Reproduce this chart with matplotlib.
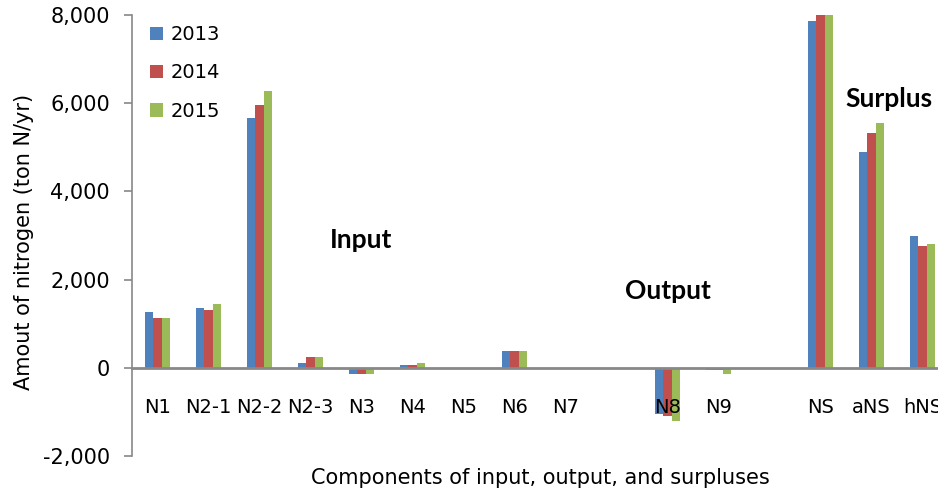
import numpy as np
import matplotlib.pyplot as plt
from matplotlib.ticker import FuncFormatter

# Nitrogen budget components (ton N/yr); blank slots separate the groups
categories = ["N1", "N2-1", "N2-2", "N2-3", "N3", "N4", "N5", "N6", "N7", "",
              "N8", "N9", "", "NS", "aNS", "hNS"]
y2013 = [1270, 1350, 5670, 100, -150, 60, 0, 380, 0, 0, -1040, -50, 0, 7870, 4890, 2980]
y2014 = [1130, 1310, 5970, 240, -150, 60, 0, 380, 0, 0, -1090, -50, 0, 8300, 5320, 2760]
y2015 = [1130, 1445, 6280, 240, -150, 100, 0, 380, 0, 0, -1210, -150, 0, 8350, 5540, 2800]
years = ["2013", "2014", "2015"]
colors = ["#4F81BD", "#C0504D", "#9BBB59"]

fig = plt.figure(figsize=(9.38, 4.91), dpi=100)
ax = fig.add_axes([0.1407, 0.0713, 0.8593, 0.8982])

x = np.arange(len(categories))
w = 0.167
for i, (vals, lab, c) in enumerate(zip([y2013, y2014, y2015], years, colors)):
    ax.bar(x + (i - 1) * w, vals, width=w, color=c, label=lab, zorder=1)

ax.set_xlim(-0.5, 15.3)
ax.set_ylim(-2000, 8000)
ax.set_yticks(np.arange(-2000, 8001, 2000))
ax.yaxis.set_major_formatter(FuncFormatter(lambda v, p: f"{int(v):,}"))
ax.tick_params(axis="y", labelsize=15, length=6, width=1.2, color="#888888", pad=10)

# category axis sits at y = 0
ax.spines["top"].set_visible(False)
ax.spines["right"].set_visible(False)
ax.spines["bottom"].set_position(("data", 0))
ax.spines["bottom"].set_color("#888888")
ax.spines["bottom"].set_linewidth(2)
ax.spines["bottom"].set_zorder(3)
ax.spines["left"].set_color("#888888")
ax.spines["left"].set_linewidth(1.2)
ax.set_xticks(x)
ax.set_xticklabels(categories)
ax.tick_params(axis="x", length=0, labelsize=14, pad=22)
ax.xaxis.set_zorder(4)  # labels drawn over the N8 bars, as in the original

ax.set_ylabel("Amout of nitrogen (ton N/yr)", fontsize=15)
ax.yaxis.set_label_coords(-0.1215, 0.485)
fig.text(0.576, 0.027, "Components of input, output, and surpluses",
         fontsize=15, ha="center", va="center")

for txt, tx, ty in [("Input", 4.0, 2900), ("Output", 10.0, 1750), ("Surplus", 14.33, 6100)]:
    ax.text(tx, ty, txt, fontsize=19, fontweight="bold", family="Lato",
            ha="center", va="center")

ax.legend(loc="upper left", bbox_to_anchor=(150 / 938, 1 - 25 / 491),
          bbox_transform=fig.transFigure, frameon=False, fontsize=14,
          handlelength=0.67, handleheight=0.67, handletextpad=0.4,
          labelspacing=1.0, borderpad=0, borderaxespad=0)

fig.savefig("out.png", dpi=100)
